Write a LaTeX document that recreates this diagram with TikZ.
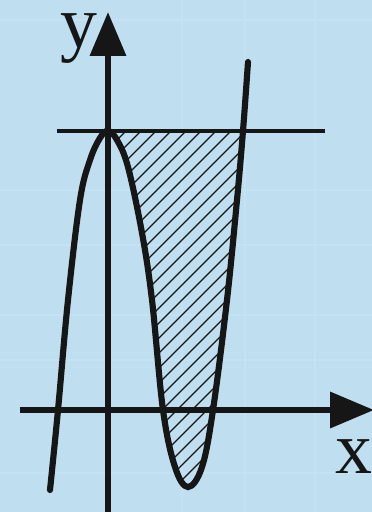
\documentclass[tikz,border=0pt]{standalone}
\usepackage{fontspec}
\setmainfont{Liberation Serif}
\usetikzlibrary{arrows.meta}
\definecolor{bgblue}{RGB}{191,223,241}
\definecolor{gridblue}{RGB}{195,226,243}
\definecolor{ink}{RGB}{22,22,22}
\tikzset{
  axis/.style={draw=ink, line width=3.5pt, -{Triangle[length=25pt,width=20pt]}},
  curve/.style={draw=ink, line width=3.5pt, line cap=round},
  hline/.style={draw=ink, line width=2.3pt},
  hatch/.style={draw=ink, line width=0.7pt},
  lbl/.style={text=ink, font=\fontsize{42}{42}\selectfont, inner sep=0pt, text height=0.47em, text depth=0.22em}
}
\begin{document}
\begin{tikzpicture}[x=0.02cm, y=-0.02cm]
  \fill[bgblue] (0,0) rectangle (372,512);
  \useasboundingbox (0,0) rectangle (372,512);
  % faint grid
  \foreach \gx in {182,245,315} \draw[gridblue, line width=0.6pt] (\gx,0) -- (\gx,512);
  \foreach \gy in {20,190,245,315,360,473} \draw[gridblue, line width=0.6pt] (0,\gy) -- (372,\gy);
  % hatching
  \begin{scope}
    \clip plot[smooth, tension=0.6] coordinates {(108,131) (117,140) (128,167) (142,233) (152,300) (163,410) (175,467) (188,487) (202,467) (213,410) (227,300) (237,200) (243,131)} -- cycle;
    \foreach \c in {-300,-285,...,220} \draw[hatch] (\c,512) -- (\c+512,0);
  \end{scope}
  % horizontal line
  \coordinate (hl) at (57,131);
  \coordinate (hr) at (325,131);
  \draw[hline] (hl) -- (hr);
  % axes
  \coordinate (xs) at (20,410);
  \coordinate (xe) at (374,410);
  \coordinate (ys) at (108,514);
  \coordinate (ye) at (108,12);
  \draw[axis] (xs) -- (xe);
  \draw[axis] (ys) -- (ye);
  % curve
  \draw[curve] plot[smooth, tension=0.6] coordinates {(50,490) (58,410) (68,300) (80,200) (90,160) (100,138) (108,131) (117,140) (128,167) (142,233) (152,300) (163,410) (175,467) (188,487) (202,467) (213,410) (227,300) (237,200) (243,131) (248,62)};
  % labels
  \node[lbl, anchor=base] (ylab) at (79,47) {y};
  \node[lbl, anchor=base] (xlab) at (354,473) {x};
\end{tikzpicture}
\end{document}
